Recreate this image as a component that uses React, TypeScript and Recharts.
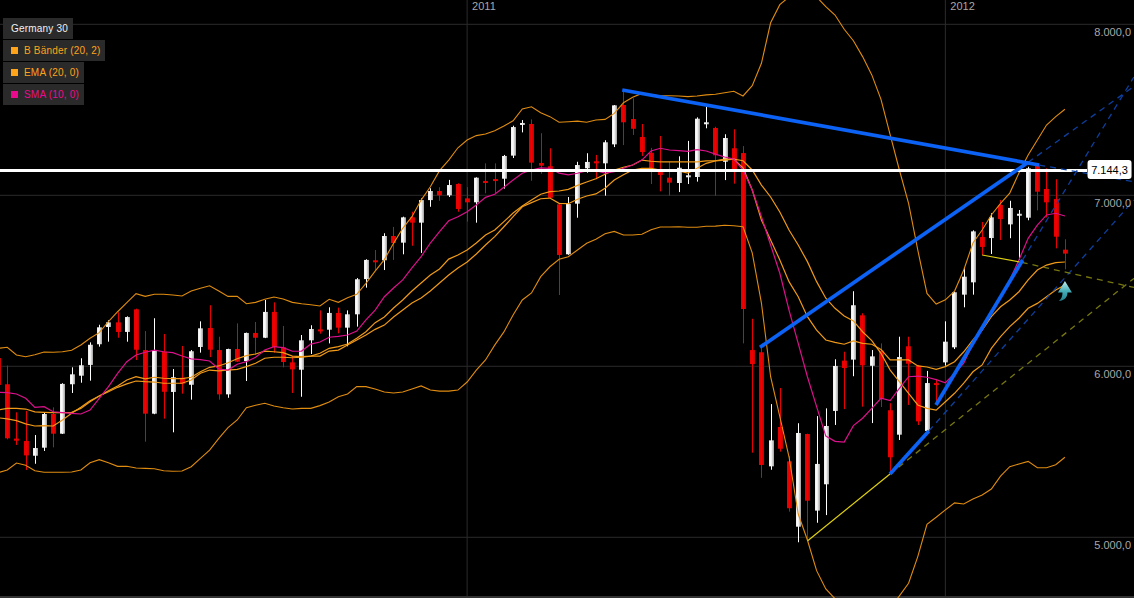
import React from "react";
import {
  ComposedChart,
  Bar,
  Line,
  XAxis,
  YAxis,
  CartesianGrid,
  ReferenceLine,
  ReferenceDot,
} from "recharts";

// Germany 30, one row per candle. The first candle is only just cut by the left edge.
const opens = [
  6048,
  5895, 5577, 5563, 5477, 5524, 5721, 5606, 5895, 5945, 6008,
  6129, 6230, 6257, 6201, 6333, 6095, 5723, 6085, 5850, 5933,
  5892, 6113, 6224, 6095, 5836, 6101, 6031, 6195, 6167, 6318,
  6111, 6023, 5980, 6152, 6216, 6214, 6312, 6226, 6304, 6510,
  6620, 6620, 6762, 6723, 6871, 6840, 6972, 7025, 7000, 7066,
  6982, 6959, 7084, 7095, 7097, 7232, 7413, 7417, 7189, 7170,
  6947, 6655, 6951, 7158, 7199, 7187, 7298, 7528, 7446, 7341,
  7249, 7136, 7103, 7072, 7107, 7107, 7417, 7394, 7196, 7275,
  7247, 6095, 6082, 5415, 5645, 5444, 5062, 5604, 5156, 5310,
  5739, 6033, 6039, 6298, 6003, 6091, 5743, 5600, 6117, 6003,
  5622, 5902, 6023, 6111, 6419, 6491, 6756, 6750, 6943, 6830,
  6887, 6869, 7171, 7037, 6978, 6682,
];
const closes = [
  5891,
  5579, 5565, 5479, 5522, 5721, 5606, 5897, 5953, 6006, 6126,
  6228, 6257, 6201, 6288, 6097, 5723, 6095, 5851, 5936, 5898,
  6088, 6222, 6097, 5836, 6101, 6027, 6195, 6167, 6318, 6113,
  6025, 5982, 6152, 6218, 6206, 6312, 6226, 6304, 6509, 6622,
  6610, 6762, 6721, 6871, 6840, 6972, 7025, 7000, 7060, 6920,
  6959, 7103, 7072, 7084, 7230, 7399, 7423, 7191, 7173, 6986,
  6651, 6949, 7177, 7195, 7187, 7310, 7526, 7427, 7389, 7253,
  7158, 7119, 7074, 7161, 7117, 7448, 7427, 7234, 7335, 7154,
  6335, 6013, 5423, 5567, 5518, 5170, 5610, 5214, 5429, 5651,
  6002, 5990, 6357, 6006, 6058, 5809, 5468, 6054, 6015, 5678,
  5902, 5891, 6144, 6433, 6524, 6789, 6698, 6871, 6861, 6926,
  6892, 7158, 7021, 6959, 6758, 6659,
];
const highs = [
  6100,
  6004, 5731, 5739, 5598, 5729, 5760, 5901, 5994, 6047, 6140,
  6243, 6269, 6316, 6292, 6337, 6206, 6281, 6189, 5984, 6119,
  6095, 6263, 6357, 6173, 6103, 6251, 6197, 6259, 6388, 6374,
  6236, 6060, 6183, 6240, 6327, 6345, 6343, 6327, 6516, 6626,
  6680, 6778, 6815, 6875, 6904, 6982, 7041, 7047, 7090, 7070,
  7048, 7105, 7187, 7187, 7236, 7407, 7440, 7444, 7363, 7275,
  6953, 6990, 7196, 7246, 7236, 7322, 7528, 7606, 7567, 7417,
  7277, 7347, 7196, 7228, 7318, 7456, 7518, 7401, 7357, 7386,
  7288, 6278, 6115, 5779, 5873, 5475, 5667, 5606, 5709, 5754,
  6041, 6085, 6439, 6310, 6095, 6134, 5784, 6173, 6173, 6008,
  5973, 5926, 6263, 6436, 6579, 6795, 6844, 6895, 6973, 6968,
  6914, 7167, 7187, 7158, 7094, 6743,
];
const lows = [
  5850,
  5573, 5540, 5394, 5430, 5505, 5526, 5604, 5844, 5904, 5916,
  6115, 6144, 6167, 6144, 6037, 5559, 5720, 5694, 5614, 5840,
  5805, 6080, 6054, 5805, 5816, 6025, 5914, 6066, 6165, 6080,
  5994, 5844, 5822, 6072, 6191, 6134, 6193, 6117, 6232, 6460,
  6563, 6563, 6622, 6655, 6705, 6663, 6933, 6968, 6990, 6904,
  6846, 6840, 7012, 7012, 7039, 7218, 7368, 7085, 7126, 6982,
  6417, 6652, 6869, 7132, 7094, 6998, 7282, 7294, 7353, 7230,
  7066, 7023, 6998, 7019, 7066, 7080, 7392, 6998, 7089, 7068,
  6134, 5495, 5348, 5395, 5501, 5150, 4971, 4984, 5085, 5130,
  5657, 5750, 5942, 5764, 5668, 5762, 5376, 5569, 5774, 5657,
  5618, 5784, 6004, 6101, 6345, 6419, 6651, 6657, 6739, 6749,
  6622, 6854, 6912, 6871, 6690, 6567,
];

const bandUpper = [
  6105,
  6111, 6066, 6056, 6068, 6084, 6082, 6085, 6094, 6125, 6164,
  6197, 6261, 6319, 6372, 6425, 6409, 6421, 6421, 6417, 6411,
  6440, 6456, 6471, 6440, 6409, 6409, 6366, 6374, 6392, 6405,
  6394, 6374, 6366, 6360, 6353, 6392, 6374, 6401, 6421, 6485,
  6557, 6624, 6719, 6807, 6875, 6972, 7050, 7144, 7206, 7278,
  7323, 7349, 7358, 7378, 7405, 7436, 7505, 7518, 7483, 7460,
  7427, 7430, 7434, 7427, 7440, 7444, 7479, 7541, 7573, 7596,
  7587, 7582, 7582, 7581, 7577, 7581, 7587, 7591, 7600, 7608,
  7581, 7641, 7772, 8009, 8115, 8160, 8183, 8171, 8160, 8103,
  8054, 7971, 7904, 7811, 7704, 7561, 7353, 7148, 6953, 6680,
  6426, 6364, 6389, 6440, 6563, 6721, 6797, 6885, 6953, 7013,
  7130, 7236, 7323, 7411, 7460, 7503,
];
const bandLower = [
  5378,
  5394, 5434, 5421, 5389, 5380, 5380, 5380, 5382, 5394, 5436,
  5454, 5436, 5415, 5415, 5405, 5403, 5401, 5389, 5386, 5388,
  5413, 5462, 5510, 5579, 5641, 5686, 5758, 5772, 5784, 5768,
  5758, 5750, 5754, 5754, 5770, 5791, 5822, 5838, 5881, 5881,
  5867, 5850, 5844, 5850, 5867, 5885, 5861, 5855, 5855, 5861,
  5908, 5978, 6037, 6124, 6201, 6300, 6388, 6429, 6524, 6582,
  6626, 6641, 6680, 6719, 6743, 6775, 6789, 6768, 6768, 6772,
  6799, 6815, 6815, 6816, 6813, 6813, 6819, 6820, 6825, 6822,
  6816, 6663, 6370, 5939, 5705, 5471, 5136, 4984, 4805, 4698,
  4641, 4598, 4563, 4546, 4528, 4546, 4587, 4657, 4731, 4887,
  5076, 5117, 5160, 5201, 5195, 5224, 5247, 5282, 5358, 5413,
  5429, 5444, 5407, 5407, 5424, 5468,
];
const ema20 = [
  5744,
  5754, 5754, 5750, 5734, 5731, 5729, 5729, 5731, 5754, 5793,
  5826, 5857, 5885, 5920, 5939, 5926, 5936, 5930, 5928, 5928,
  5936, 5968, 5994, 6002, 6021, 6044, 6062, 6072, 6089, 6085,
  6080, 6060, 6056, 6060, 6076, 6105, 6115, 6130, 6164, 6202,
  6255, 6288, 6341, 6388, 6440, 6487, 6534, 6569, 6627, 6651,
  6680, 6721, 6768, 6797, 6846, 6896, 6937, 6972, 7006, 7021,
  7025, 7035, 7058, 7078, 7097, 7123, 7148, 7164, 7177, 7206,
  7199, 7196, 7196, 7196, 7196, 7196, 7201, 7202, 7211, 7212,
  7202, 7148, 7060, 6990, 6902, 6797, 6709, 6612, 6495, 6398,
  6339, 6294, 6265, 6202, 6150, 6076, 5978, 5910, 5842, 5774,
  5754, 5744, 5793, 5842, 5901, 5968, 6008, 6105, 6173, 6232,
  6281, 6339, 6368, 6407, 6446, 6475,
];
const bandMiddle = [
  5699,
  5692, 5682, 5663, 5651, 5653, 5651, 5686, 5725, 5760, 5799,
  5826, 5851, 5877, 5897, 5914, 5910, 5908, 5901, 5901, 5901,
  5920, 5959, 5978, 5973, 5978, 5982, 5998, 6018, 6047, 6053,
  6053, 6050, 6053, 6060, 6060, 6089, 6095, 6124, 6154, 6183,
  6216, 6241, 6288, 6329, 6370, 6399, 6440, 6487, 6534, 6575,
  6610, 6657, 6709, 6758, 6816, 6875, 6933, 6957, 6980, 6984,
  6953, 6951, 6977, 6996, 7008, 7041, 7089, 7120, 7148, 7158,
  7158, 7148, 7148, 7142, 7130, 7158, 7187, 7201, 7206, 7211,
  7160, 7031, 6856, 6739, 6622, 6495, 6407, 6290, 6212, 6154,
  6140, 6129, 6148, 6134, 6129, 6099, 6037, 6037, 6037, 6002,
  5996, 5982, 5998, 6027, 6085, 6154, 6212, 6290, 6348, 6388,
  6436, 6505, 6563, 6592, 6606, 6610,
];
const sma10 = [
  5848,
  5846, 5838, 5813, 5760, 5764, 5734, 5729, 5725, 5721, 5744,
  5813, 5881, 5959, 6027, 6066, 6082, 6095, 6085, 6080, 6060,
  6043, 6039, 6031, 5984, 5978, 6012, 6027, 6053, 6095, 6115,
  6109, 6088, 6089, 6130, 6142, 6170, 6175, 6183, 6206, 6271,
  6329, 6407, 6458, 6505, 6575, 6641, 6721, 6787, 6851, 6875,
  6904, 6943, 6988, 7006, 7047, 7089, 7129, 7148, 7160, 7158,
  7130, 7120, 7129, 7144, 7144, 7130, 7138, 7158, 7177, 7206,
  7259, 7275, 7265, 7261, 7257, 7267, 7259, 7241, 7224, 7212,
  7148, 7031, 6875, 6709, 6544, 6329, 6134, 5939, 5764, 5592,
  5561, 5557, 5653, 5696, 5754, 5813, 5799, 5871, 5939, 5943,
  5936, 5922, 5904, 5959, 6018, 6134, 6212, 6310, 6407, 6505,
  6622, 6748, 6826, 6885, 6895, 6879,
];

const priceTicks = [5000, 6000, 7000, 8000];
const yearPositions = [51, 103];
const yearLabels = ["2011", "2012"];
const lastPrice = 7144.3;

const legendNames = ["B Bänder (20, 2)", "EMA (20, 0)", "SMA (10, 0)"];
const legendColors = ["#ffa31a", "#ffa31a", "#ea0a8e"];

// trend lines as [position, price, position, price]
const blueLines = [
  [67.87, 7616, 113.2, 7177],
  [82.84, 6111, 112.0, 7193],
  [96.98, 5370, 101.2, 5622],
  [101.98, 5774, 111.4, 6622],
];
const blueDashed = [
  [101.2, 5622, 123.5, 6972],
  [111.4, 6622, 123.5, 7692],
  [112.0, 7193, 123.5, 7637],
  [113.2, 7177, 123.5, 7079],
];
const yellowLines = [
  [88.03, 4980, 96.98, 5370],
  [107.0, 6651, 111.3, 6608],
];
const oliveDashed = [
  [96.98, 5370, 123.5, 6514],
  [111.3, 6608, 123.5, 6461],
];

const chartData = opens.map((open, i) => ({
  pos: i,
  open,
  close: closes[i],
  high: highs[i],
  low: lows[i],
  bandUpper: bandUpper[i],
  bandLower: bandLower[i],
  bandMiddle: bandMiddle[i],
  ema20: ema20[i],
  sma10: sma10[i],
}));

const formatPrice = (v: number) =>
  v.toLocaleString("de-DE", { minimumFractionDigits: 1, maximumFractionDigits: 1 });

const Candle = (props: any) => {
  const { x, y, width, height, payload } = props;
  const pxPerPoint = height / (payload.high - payload.low);
  const up = payload.close >= payload.open;
  const top = y + (payload.high - Math.max(payload.open, payload.close)) * pxPerPoint;
  const bodyHeight = Math.max(Math.abs(payload.close - payload.open) * pxPerPoint, 2);
  const mid = Math.round(x + width / 2);
  return (
    <g>
      <rect x={mid} y={y} width={1} height={height} fill={up ? "#ffffff" : "#e80000"} />
      <rect
        x={mid - 2}
        y={top}
        width={5}
        height={bodyHeight}
        fill={up ? "url(#whiteBody)" : "url(#redBody)"}
      />
    </g>
  );
};

const PriceTick = (props: any) => (
  <text
    x={1131}
    y={props.y + 12}
    textAnchor="end"
    fontSize={11}
    fontFamily="Liberation Sans"
    fill="#a8a8a8"
  >
    {formatPrice(props.payload.value)}
  </text>
);

const YearTick = (props: any) => (
  <text
    x={props.x + 5}
    y={10}
    fontSize={11}
    fontFamily="Liberation Sans"
    fill="#a8a8a8"
  >
    {yearLabels[yearPositions.indexOf(props.payload.value)]}
  </text>
);

const PriceTag = (props: any) => (
  <g>
    <rect x={props.cx - 22} y={props.cy - 10.5} width={44} height={19} rx={3} fill="#ffffff" />
    <text
      x={props.cx}
      y={props.cy + 3}
      textAnchor="middle"
      fontSize={11}
      fontFamily="Liberation Sans"
      fill="#000000"
    >
      {formatPrice(lastPrice)}
    </text>
  </g>
);

const ArrowMark = (props: any) => {
  const { cx, cy } = props;
  return (
    <path
      transform={`translate(${cx} ${cy})`}
      d="M0 -9 L7 2.5 L2.5 2.5 C2.5 7 0 10.5 -6 11 C-3 8 -2.5 6 -2.5 2.5 L-7 2.5 Z"
      fill="url(#arrowFill)"
    />
  );
};

const segment = (s: number[]) => [
  { x: s[0], y: s[1] },
  { x: s[2], y: s[3] },
];

export default function App() {
  return (
    <div style={{ position: "absolute", left: 0, top: 0, width: 1134, height: 598, background: "#000", overflow: "hidden" }}>
      <ComposedChart
        width={1134}
        height={598}
        data={chartData}
        margin={{ top: 0, right: 0, bottom: 0, left: 0 }}
      >
        <defs>
          <linearGradient id="whiteBody" x1="0" x2="1" y1="0" y2="0">
            <stop offset="0" stopColor="#ececec" />
            <stop offset="0.4" stopColor="#ffffff" />
            <stop offset="1" stopColor="#a0a0a0" />
          </linearGradient>
          <linearGradient id="redBody" x1="0" x2="1" y1="0" y2="0">
            <stop offset="0" stopColor="#e40000" />
            <stop offset="0.5" stopColor="#f00000" />
            <stop offset="1" stopColor="#c80000" />
          </linearGradient>
          <linearGradient id="arrowFill" x1="0" x2="0" y1="0" y2="1">
            <stop offset="0" stopColor="#c4eef0" />
            <stop offset="0.5" stopColor="#45aeb8" />
            <stop offset="1" stopColor="#1f7f8c" />
          </linearGradient>
        </defs>
        <CartesianGrid
          stroke="#2b2b2b"
          horizontalValues={priceTicks}
          verticalValues={yearPositions}
        />
        <XAxis
          type="number"
          dataKey="pos"
          orientation="top"
          mirror
          domain={[0.21, 123.51]}
          allowDataOverflow
          ticks={yearPositions}
          interval={0}
          axisLine={false}
          tickLine={false}
          tick={<YearTick />}
          height={20}
        />
        <YAxis
          type="number"
          orientation="right"
          mirror
          domain={[4645, 8142.1]}
          allowDataOverflow
          ticks={priceTicks}
          interval={0}
          axisLine={false}
          tickLine={false}
          tick={<PriceTick />}
          width={40}
        />
        <ReferenceLine y={4651} stroke="#333333" strokeWidth={2} />
        <Bar
          dataKey={(d: any) => [d.low, d.high]}
          barSize={5}
          shape={<Candle />}
          isAnimationActive={false}
        />
        <Line dataKey="bandUpper" stroke="#e08c10" strokeWidth={1.1} dot={false} isAnimationActive={false} />
        <Line dataKey="bandLower" stroke="#e08c10" strokeWidth={1.1} dot={false} isAnimationActive={false} />
        <Line dataKey="bandMiddle" stroke="#f09a18" strokeWidth={1.2} dot={false} isAnimationActive={false} />
        <Line dataKey="ema20" stroke="#f09a18" strokeWidth={1.2} dot={false} isAnimationActive={false} />
        <Line dataKey="sma10" stroke="#dc108c" strokeWidth={1.2} dot={false} isAnimationActive={false} />
        <ReferenceLine
          segment={[
            { x: 0.21, y: lastPrice },
            { x: 118.4, y: lastPrice },
          ]}
          stroke="#ffffff"
          strokeWidth={3}
        />
        {blueDashed.map((s, i) => (
          <ReferenceLine key={`bd${i}`} segment={segment(s)} stroke="#0d3f9e" strokeWidth={1.3} strokeDasharray="6 5" ifOverflow="hidden" />
        ))}
        {oliveDashed.map((s, i) => (
          <ReferenceLine key={`od${i}`} segment={segment(s)} stroke="#77770f" strokeWidth={1.3} strokeDasharray="6 5" ifOverflow="hidden" />
        ))}
        {yellowLines.map((s, i) => (
          <ReferenceLine key={`yl${i}`} segment={segment(s)} stroke="#e0d010" strokeWidth={1.2} />
        ))}
        {blueLines.map((s, i) => (
          <ReferenceLine key={`bl${i}`} segment={segment(s)} stroke="#0b62f5" strokeWidth={3.7} />
        ))}
        <ReferenceDot x={120.85} y={lastPrice} r={1} shape={<PriceTag />} />
        <ReferenceDot x={116} y={6446} r={1} shape={<ArrowMark />} />
      </ComposedChart>

      <div style={{ position: "absolute", left: 3, top: 18, width: 70, height: 21, background: "#2a2a2a", color: "#f0f0f0", font: "10px 'Liberation Sans'", lineHeight: "21px", paddingLeft: 8, boxSizing: "border-box", letterSpacing: 0.2 }}>
        Germany 30
      </div>
      {legendNames.map((name, i) => (
        <div
          key={name}
          style={{
            position: "absolute",
            left: 3,
            top: 40 + i * 22,
            width: i === 0 ? 102 : 81,
            height: 21,
            background: "#2a2a2a",
            color: legendColors[i],
            font: "10px 'Liberation Sans'",
            lineHeight: "21px",
            paddingLeft: 21,
            boxSizing: "border-box",
            letterSpacing: 0.2,
          }}
        >
          <span style={{ position: "absolute", left: 8, top: 7, width: 7, height: 7, background: legendColors[i] }} />
          {name}
        </div>
      ))}
    </div>
  );
}
